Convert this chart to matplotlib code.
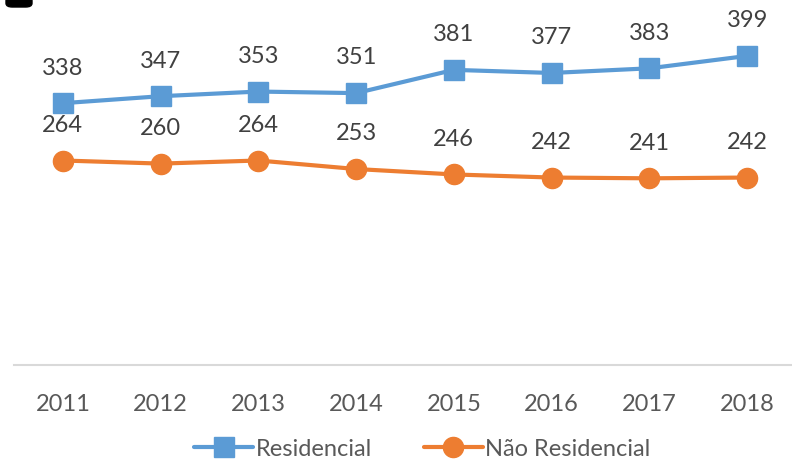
import matplotlib
matplotlib.use("Agg")
import matplotlib.pyplot as plt
from matplotlib.patches import FancyBboxPatch

years = ["2011", "2012", "2013", "2014", "2015", "2016", "2017", "2018"]
residencial = [338, 347, 353, 351, 381, 377, 383, 399]
nao_residencial = [264, 260, 264, 253, 246, 242, 241, 242]

blue = "#5B9BD5"
orange = "#ED7D31"
label_color = "#404040"
tick_color = "#595959"

plt.rcParams["font.family"] = ["Lato", "DejaVu Sans"]

fig = plt.figure(figsize=(7.92, 4.64), dpi=100)
ax = fig.add_axes([14 / 792, 98 / 464, 782 / 792, 354 / 464])

x = list(range(len(years)))
ax.plot(x, residencial, color=blue, lw=3, marker="s", ms=14,
        label="Residencial", solid_capstyle="round")
ax.plot(x, nao_residencial, color=orange, lw=3, marker="o", ms=14.5,
        label="Não Residencial", solid_capstyle="round")

for xi, v in zip(x, residencial):
    ax.annotate(str(v), (xi, v), xytext=(0, 26), textcoords="offset points",
                ha="center", va="center", fontsize=17, color=label_color)
for xi, v in zip(x, nao_residencial):
    ax.annotate(str(v), (xi, v), xytext=(0, 26), textcoords="offset points",
                ha="center", va="center", fontsize=17, color=label_color)

ax.set_xlim(-0.5, 7.5)
ax.set_ylim(0, 457)
ax.set_xticks(x)
ax.set_xticklabels(years, fontsize=17, color=tick_color)
ax.tick_params(axis="x", length=0, pad=20)
ax.set_yticks([])
for side in ("top", "right", "left"):
    ax.spines[side].set_visible(False)
ax.spines["bottom"].set_color("#D9D9D9")
ax.spines["bottom"].set_linewidth(1.5)

leg = fig.legend(loc="center", bbox_to_anchor=(0.533, 0.031), ncol=2,
                 frameon=False, fontsize=17, handlelength=2.5,
                 columnspacing=2.2, handletextpad=0.1)
for t in leg.get_texts():
    t.set_color(tick_color)

# small dark mark in the top-left corner
fig.patches.append(FancyBboxPatch((6 / 792, 456 / 464), 26 / 792, 10 / 464,
                                  boxstyle="round,pad=0,rounding_size=0.008",
                                  transform=fig.transFigure, color="black",
                                  zorder=5))

fig.savefig("out.png", dpi=100)
